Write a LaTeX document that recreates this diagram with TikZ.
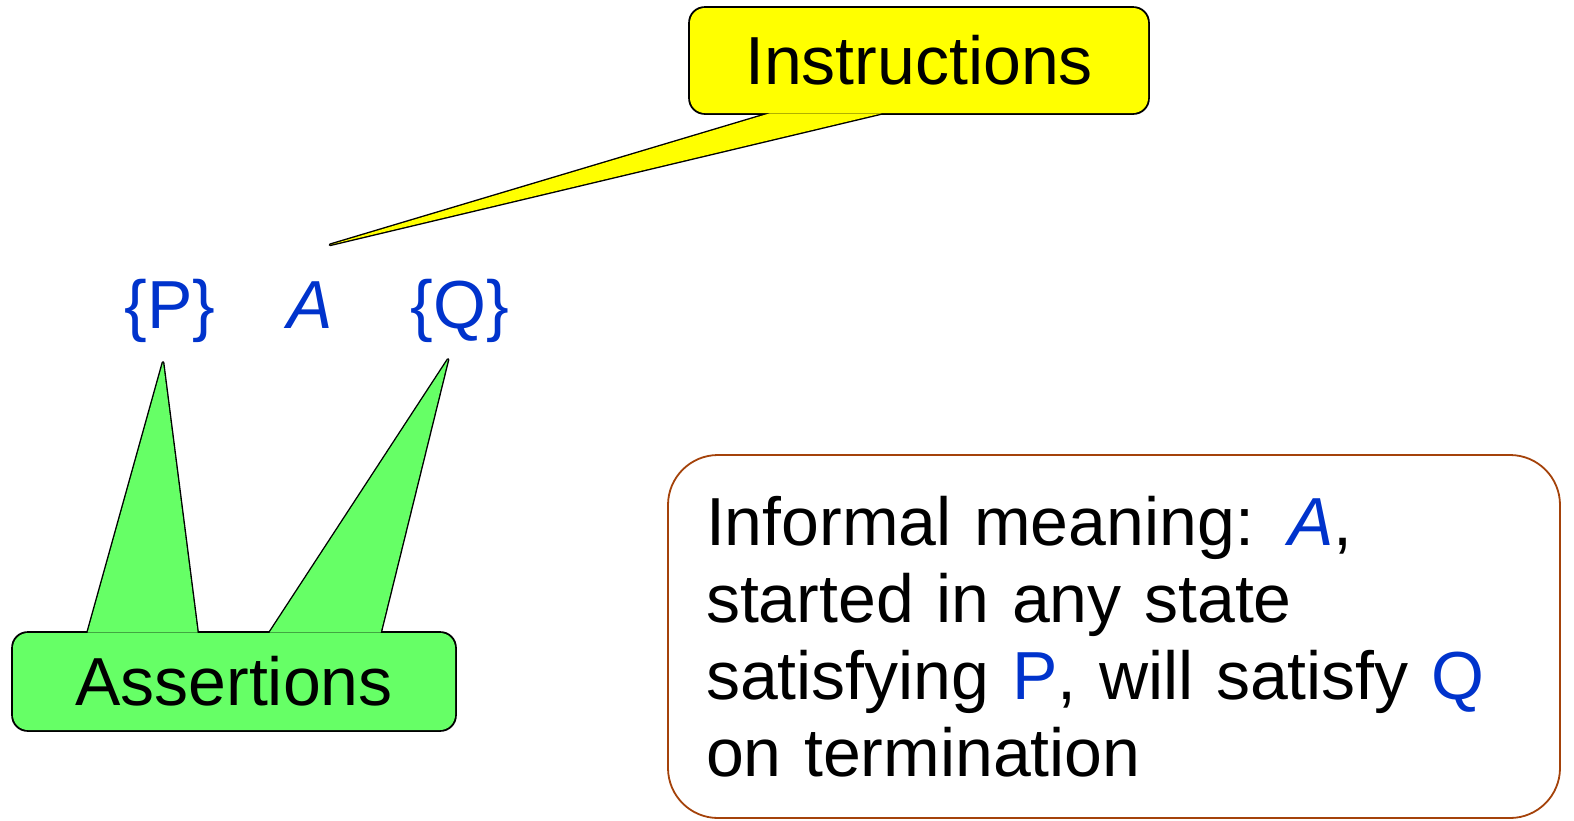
\documentclass[tikz,border=0pt]{standalone}
\usepackage{fontspec}
\setmainfont{Liberation Sans}
\usetikzlibrary{calc, positioning, backgrounds}
\definecolor{hoareblue}{RGB}{0,51,204}
\definecolor{noteyellow}{RGB}{255,255,0}
\definecolor{notegreen}{RGB}{102,255,102}
\definecolor{rimbrown}{RGB}{164,66,10}
\tikzset{
    bubble/.style    = {rounded corners = 7.5pt, minimum width = 229pt, minimum height = 52.5pt, inner sep = 0pt, font = \fontsize{34}{40}\selectfont},
    rim/.style       = {draw = black, line width = 1.4pt, line join = round},
    triple/.style    = {text = hoareblue, inner sep = 0pt, anchor = base, font = \fontsize{34}{40}\selectfont},
    meaning box/.style = {draw = rimbrown, line width = 0.9pt, rounded corners = 25pt, minimum width = 446pt, minimum height = 181.5pt, text width = 408pt, align = left, inner sep = 0pt, font = \fontsize{34}{38.5}\selectfont}
}
\newcommand{\hl}[1]{\textcolor{hoareblue}{#1}}

\begin{document}
\begin{tikzpicture}[x=0.5pt, y=-0.5pt]
		\useasboundingbox (0,0) rectangle (1574,820);

		% the Hoare triple
		\node[triple] (pre)  at (170,328) {\{P\}};
		\node[triple] (prog) at (310,328) {\textit{A}};
		\node[triple] (post) at (460,328) {\{Q\}};

		% speech bubbles
		\node[bubble, fill=noteyellow] (instr) at (919,60.5) {Instructions};
		\node[bubble, fill=notegreen, minimum width=221pt, minimum height=48.5pt] (assert) at (234,681.5) {Assertions};

		\coordinate (itip) at ($(prog.north)+(20,-36)$);
		\coordinate (ptip) at ($(pre.south)+(-7,20)$);
		\coordinate (qtip) at ($(post.south)+(-12,17)$);

		\begin{scope}[on background layer]
			\draw[rim, rounded corners=7.5pt] (instr.south west) rectangle (instr.north east);
			\draw[rim, rounded corners=7.5pt] (assert.south west) rectangle (assert.north east);
			\draw[rim] ($(instr.south west)+(80,0)$) -- (itip) -- ($(instr.south west)+(192,0)$) -- cycle;
			\draw[rim] ($(assert.north west)+(75,0)$) -- (ptip) -- ($(assert.north west)+(185,0)$) -- cycle;
			\draw[rim] ($(assert.north west)+(257,0)$) -- (qtip) -- ($(assert.north west)+(368,0)$) -- cycle;
		\end{scope}

		\fill[noteyellow] ($(instr.south west)+(80,0)$) -- (itip) -- ($(instr.south west)+(192,0)$) -- cycle;
		\fill[notegreen] ($(assert.north west)+(75,0)$) -- (ptip) -- ($(assert.north west)+(185,0)$) -- cycle;
		\fill[notegreen] ($(assert.north west)+(257,0)$) -- (qtip) -- ($(assert.north west)+(368,0)$) -- cycle;

		\node[meaning box] (meaning) at (1114,636.5) {Informal meaning: \hl{\textit{A}},\\ started in any state\\ satisfying \hl{P}, will satisfy \hl{Q}\\ on termination};
	\end{tikzpicture}
\end{document}
